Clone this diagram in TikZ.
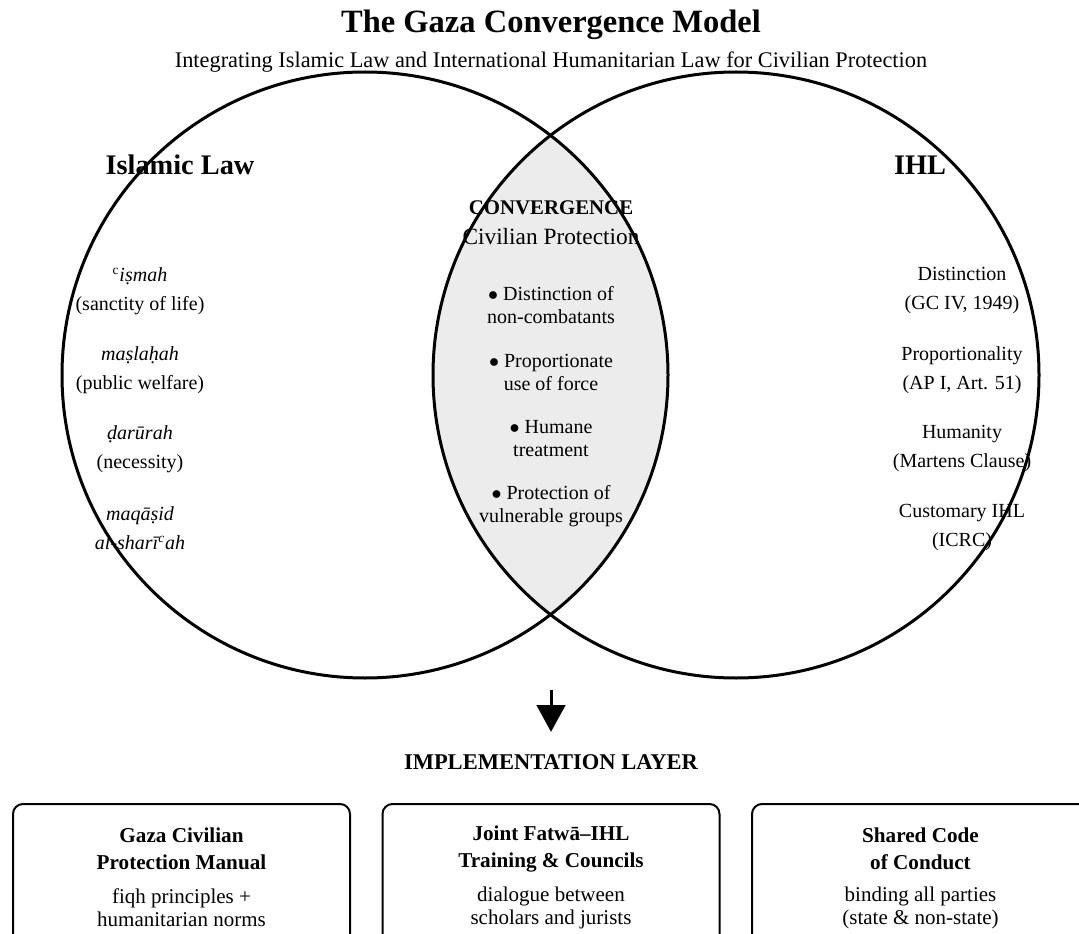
\documentclass[tikz,border=0pt]{standalone}
\usepackage{fontspec}
\setmainfont{Liberation Serif}
\usetikzlibrary{arrows.meta,positioning}

\tikzset{
  lawitem/.style={align=center, font=\fontsize{12}{17.4}\selectfont},
  bulletitem/.style={align=center, font=\fontsize{12}{13.8}\selectfont},
  headlabel/.style={font=\fontsize{17}{19}\selectfont\bfseries},
  layerbox/.style={draw, line width=1.2pt, rounded corners=6pt, minimum width=202.2pt, minimum height=96pt, anchor=north},
  boxtitle/.style={align=center, font=\fontsize{12.7}{16.2}\selectfont\bfseries},
  boxtext/.style={align=center, font=\fontsize{12.6}{13.8}\selectfont}
}

\begin{document}
\begin{tikzpicture}[x=0.6pt, y=-0.6pt]
    \useasboundingbox (0,0) rectangle (1079,934);

    % Title
    \node[font=\fontsize{19.5}{24}\selectfont\bfseries] (title) at (551,25) {The Gaza Convergence Model};
    \node[font=\fontsize{13.4}{15}\selectfont] (subtitle) at (551,62) {Integrating Islamic Law and International Humanitarian Law for Civilian Protection};

    % Lens of the two circles
    \begin{scope}
        \clip (365,375) circle (303);
        \fill[gray!15] (736,375) circle (303);
    \end{scope}

    % Circle labels
    \node[headlabel] (islam) at (180,165) {Islamic Law};
    \node[headlabel] (ihl) at (920,165) {IHL};

    % Islamic law terms on the left
    \node[lawitem] (ismah) at (140,291) {\textsuperscript{c}\textit{i\d{s}mah}\\(sanctity of life)};
    \node[lawitem] (maslahah) at (140,370) {\textit{ma\d{s}la\d{h}ah}\\(public welfare)};
    \node[lawitem] (darurah) at (140,449) {\textit{\d{d}ar\={u}rah}\\(necessity)};
    \node[lawitem] (maqasid) at (140,528) {\textit{maq\={a}\d{s}id}\\\textit{al-shar\={\i}\textsuperscript{c}ah}};

    % IHL principles on the right
    \node[lawitem] (distinct) at (962,291) {Distinction\\(GC IV, 1949)};
    \node[lawitem] (proport) at (962,370) {Proportionality\\(AP I, Art. 51)};
    \node[lawitem] (humanity) at (962,449) {Humanity\\(Martens Clause)};
    \node[lawitem] (custom) at (962,528) {Customary IHL\\(ICRC)};

    % Convergence zone
    \node[font=\fontsize{12.5}{14}\selectfont\bfseries] (conv) at (551,208) {CONVERGENCE};
    \node[font=\fontsize{14}{16}\selectfont] (civprot) at (551,237) {Civilian Protection};
    \node[bulletitem] (b1) at (551,305) {$\bullet$ Distinction of\\non-combatants};
    \node[bulletitem] (b2) at (551,372) {$\bullet$ Proportionate\\use of force};
    \node[bulletitem] (b3) at (551,439) {$\bullet$ Humane\\treatment};
    \node[bulletitem] (b4) at (551,506) {$\bullet$ Protection of\\vulnerable groups};

    % The two circles
    \draw[line width=1.8pt] (365,375) circle (303);
    \draw[line width=1.8pt] (736,375) circle (303);

    % Down to the implementation layer
    \coordinate (arrtop) at (551,690);
    \node[font=\fontsize{13.5}{15}\selectfont\bfseries] (impl) at (551,762) {IMPLEMENTATION LAYER};
    \draw[line width=1.8pt, -{Triangle[length=16pt, width=17pt]}] (arrtop) -- ([yshift=10pt]impl.north);

    % Implementation boxes
    \node[layerbox] (manual) at (181.5,803) {};
    \node[layerbox] (training) at (551,803) {};
    \node[layerbox] (code) at (920.5,803) {};

    \node[boxtitle] (manualt) at ([yshift=-27.3pt]manual.north) {Gaza Civilian\\Protection Manual};
    \node[boxtext] (manuald) at ([yshift=-62.7pt]manual.north) {fiqh principles +\\humanitarian norms};
    \node[boxtitle] (trainingt) at ([yshift=-27.3pt]training.north) {Joint Fatw\={a}--IHL\\Training \& Councils};
    \node[boxtext] (trainingd) at ([yshift=-62.7pt]training.north) {dialogue between\\scholars and jurists};
    \node[boxtitle] (codet) at ([yshift=-27.3pt]code.north) {Shared Code\\of Conduct};
    \node[boxtext] (coded) at ([yshift=-62.7pt]code.north) {binding all parties\\(state \& non-state)};
\end{tikzpicture}
\end{document}
